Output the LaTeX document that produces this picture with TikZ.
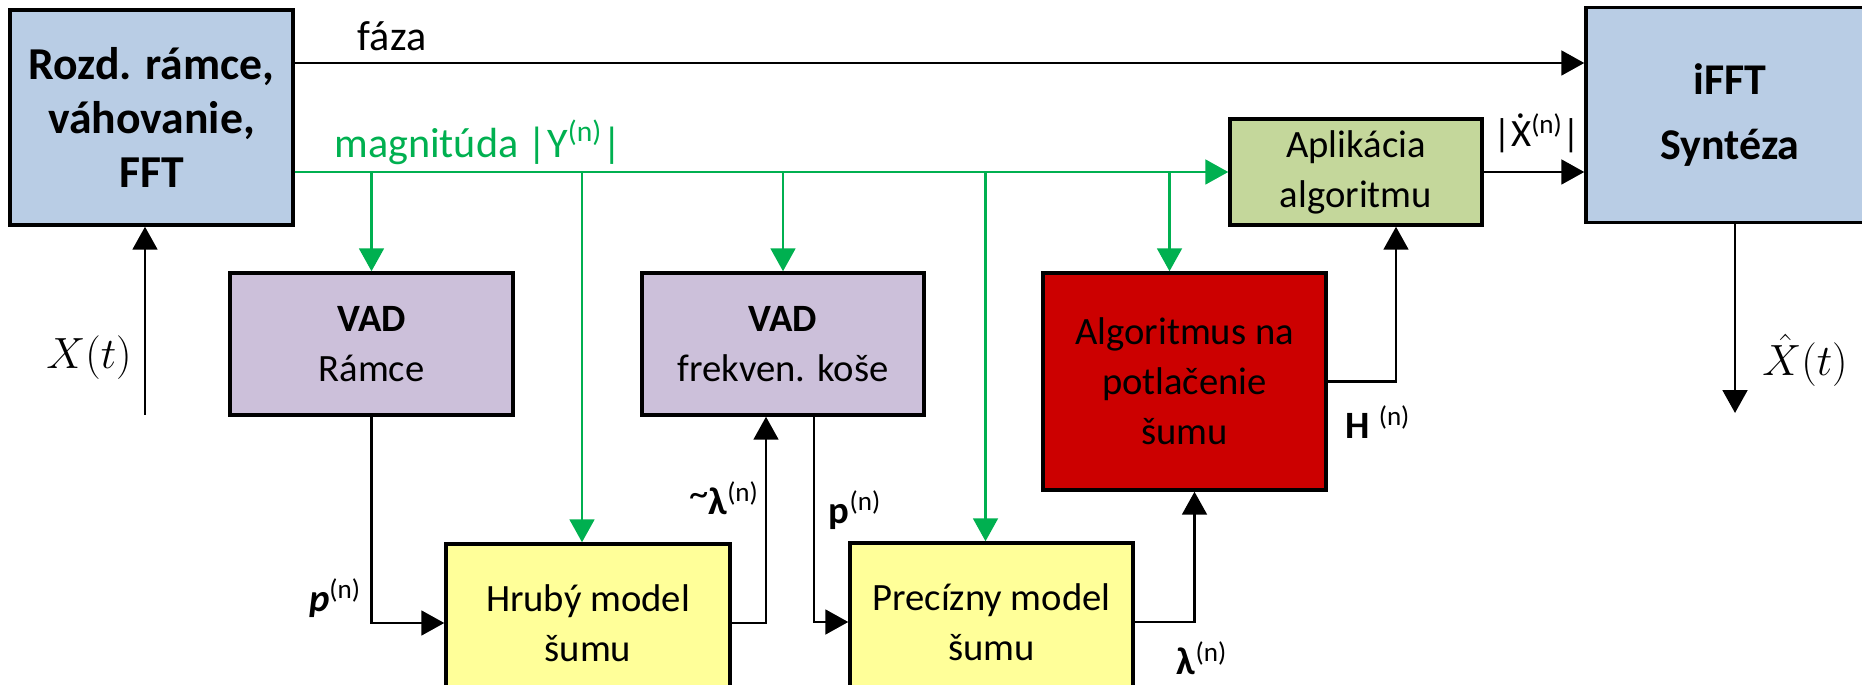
\documentclass[tikz,border=0pt]{standalone}
\usepackage{fontspec}
\setmainfont{Carlito}
\usetikzlibrary{arrows.meta}
\definecolor{modra}{HTML}{B9CDE5}
\definecolor{fialova}{HTML}{CCC0DA}
\definecolor{cervena}{HTML}{CC0000}
\definecolor{olivova}{HTML}{C4D79B}
\definecolor{zlta}{HTML}{FFFF99}
\definecolor{zelena}{HTML}{00B050}
\tikzset{
  blok/.style={draw, line width=2pt, align=center, inner sep=0pt,
    font=\fontsize{22}{28.5}\selectfont},
  sipka/.style={line width=1.6pt, -{Triangle[length=13pt,width=14pt]}},
  zsipka/.style={sipka, draw=zelena, fill=zelena},
  popis/.style={inner sep=0pt, font=\fontsize{22}{26}\selectfont}
}
\begin{document}
\begin{tikzpicture}[x=0.02cm, y=-0.02cm]
\useasboundingbox (0,0) rectangle (1862,685);
\node[blok, fill=modra, minimum width=5.66cm, minimum height=4.3cm,
  font=\fontsize{26}{31}\selectfont\bfseries] (fft) at (151.5,117.5)
  {Rozd. rámce,\\váhovanie,\\FFT};
\node[blok, fill=modra, minimum width=5.76cm, minimum height=4.3cm,
  font=\fontsize{25}{37}\selectfont\bfseries] (ifft) at (1730,115)
  {iFFT\\Syntéza};
\node[blok, fill=fialova, minimum width=5.66cm, minimum height=2.84cm] (vadr) at (371.5,344)
  {\textbf{VAD}\\Rámce};
\node[blok, fill=fialova, minimum width=5.64cm, minimum height=2.84cm] (vadf) at (783,344)
  {\textbf{VAD}\\frekven. koše};
\node[blok, fill=cervena, minimum width=5.66cm, minimum height=4.34cm] (alg) at (1184.5,381.5)
  {Algoritmus na\\potlačenie\\šumu};
\node[blok, fill=olivova, minimum width=5.04cm, minimum height=2.12cm] (apl) at (1356,172)
  {Aplikácia\\algoritmu};
\node[blok, fill=zlta, minimum width=5.68cm, minimum height=3.16cm] (hrub) at (588,623)
  {Hrubý model\\šumu};
\node[blok, fill=zlta, minimum width=5.66cm, minimum height=3.16cm] (prec) at (991.5,622)
  {Precízny model\\šumu};

\coordinate (faza) at (0,63);
\coordinate (xin) at (145,415);
\coordinate (xout) at (1735,413);

\draw[sipka] (fft.east |- faza) -- (ifft.west |- faza);
\node[popis, font=\fontsize{24}{28}\selectfont] (fazat) at (392,36) {fáza};
\draw[zsipka] (fft.east |- apl.west) -- (apl.west);
\node[popis, text=zelena, font=\fontsize{24}{28}\selectfont] (magt) at (478,142)
  {magnitúda |Y\textsuperscript{(n)}|};
\draw[zsipka] (vadr.north |- apl.west) -- (vadr.north);
\draw[zsipka] ([xshift=-0.12cm]hrub.north |- apl.west) -- ([xshift=-0.12cm]hrub.north);
\draw[zsipka] (vadf.north |- apl.west) -- (vadf.north);
\draw[zsipka] ([xshift=-0.12cm]prec.north |- apl.west) -- ([xshift=-0.12cm]prec.north);
\draw[zsipka] ([xshift=-0.3cm]alg.north |- apl.west) -- ([xshift=-0.3cm]alg.north);

\draw[sipka] (xin) -- (xin |- fft.south);
\node[popis, font=\fontsize{24}{28}\selectfont] (xt) at (89,358) {$X(t)$};
\draw[sipka] (xout |- ifft.south) -- (xout);
\node[popis, font=\fontsize{24}{28}\selectfont] (xht) at (1805,360) {$\hat{X}(t)$};

\draw[sipka] (vadr.south) |- (hrub.west);
\node[popis] (p1) at (335,598) {\textbf{\textit{p}}\textsuperscript{(n)}};
\draw[sipka] (hrub.east) -| ([xshift=-0.34cm]vadf.south);
\node[popis] (lt) at (724,498) {\raisebox{0.45ex}{\~{}}\textbf{λ}\textsuperscript{(n)}};
\draw[sipka] ([xshift=0.62cm]vadf.south) |- (prec.west);
\node[popis] (p2) at (855,510) {\textbf{p}\textsuperscript{(n)}};
\draw[sipka] (prec.east) -| ([xshift=0.2cm]alg.south);
\node[popis] (l) at (1202,658) {\textbf{λ}\textsuperscript{(n)}};
\draw[sipka] (alg.east) -| ([xshift=0.8cm]apl.south);
\node[popis] (h) at (1378,422) {\textbf{H} \textsuperscript{(n)}};
\draw[sipka] (apl.east) -- (apl.east -| ifft.west);
\node[popis] (xd) at (1537,133) {|\accent"02D9 X\textsuperscript{(n)}|};
\end{tikzpicture}
\end{document}
